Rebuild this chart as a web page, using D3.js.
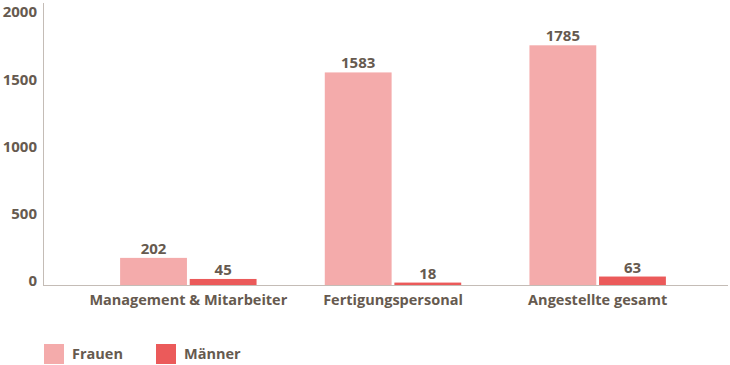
<!DOCTYPE html>
<html lang="de">
<head>
<meta charset="UTF-8"/>
<title>Frauen und Männer</title>
<script src="https://d3js.org/d3.v7.min.js"></script>
<style>
	body { margin:0; background:#fff; }
	svg text { font-family:"Open Sans", sans-serif; font-weight:700; fill:#665a4f; }
</style>
</head>
<body>
<script>
	var categories = ["Management & Mitarbeiter", "Fertigungspersonal", "Angestellte gesamt"];
	var series = ["Frauen", "Männer"];
	var frauen = [202, 1583, 1785];
	var maenner = [45, 18, 63];
	var yTicks = [0, 500, 1000, 1500, 2000];
	var colors = ["#f4abab", "#eb5a5a"];

	var w = 730, h = 365;
	var base = 285;

	var svg = d3.select("body").append("svg")
				.attr("width", w)
				.attr("height", h);

	var x0 = d3.scaleBand()
			.domain(categories)
			.range([86, 700])
			.paddingInner(1/3)
			.paddingOuter(1/6);

	var x1 = d3.scaleBand()
			.domain(series)
			.range([0, x0.bandwidth()])
			.paddingInner(0.04);

	var yScale = d3.scaleLinear()
			.domain([0, 2100])
			.range([base, 3]);

	var color = d3.scaleOrdinal().domain(series).range(colors);

	// rows for grouped bars
	var rows = categories.map(function(c, i) {
		return { cat: c, vals: [
			{ s: "Frauen", v: frauen[i] },
			{ s: "Männer", v: maenner[i] }
		]};
	});

	//------------axes-------------
	svg.append("line")
		.attr("x1", 43.5).attr("x2", 43.5)
		.attr("y1", yScale(2100)).attr("y2", base)
		.attr("stroke", "#c4bcb6");
	svg.append("line")
		.attr("x1", 43).attr("x2", 728)
		.attr("y1", base + 0.5).attr("y2", base + 0.5)
		.attr("stroke", "#c4bcb6");

	svg.selectAll("text.ytick")
		.data(yTicks)
		.enter()
		.append("text")
		.attr("class", "ytick")
		.attr("x", 37)
		.attr("y", function(d) { return yScale(d) + 1; })
		.attr("text-anchor", "end")
		.style("font-size", "15px")
		.text(function(d) { return d; });

	//------------bars-------------
	var groups = svg.selectAll("g.grp")
		.data(rows)
		.enter()
		.append("g")
		.attr("class", "grp")
		.attr("transform", function(d) { return "translate(" + x0(d.cat) + ",0)"; });

	groups.selectAll("rect")
		.data(function(d) { return d.vals; })
		.enter()
		.append("rect")
		.attr("x", function(d) { return x1(d.s); })
		.attr("y", function(d) { return yScale(d.v); })
		.attr("width", x1.bandwidth())
		.attr("height", function(d) { return base - yScale(d.v); })
		.attr("fill", function(d) { return color(d.s); });

	groups.selectAll("text.val")
		.data(function(d) { return d.vals; })
		.enter()
		.append("text")
		.attr("class", "val")
		.attr("x", function(d) { return x1(d.s) + x1.bandwidth() / 2; })
		.attr("y", function(d) { return yScale(d.v) - 4; })
		.attr("text-anchor", "middle")
		.style("font-size", "15px")
		.text(function(d) { return d.v; });

	//------------category labels-------------
	svg.selectAll("text.cat")
		.data(categories)
		.enter()
		.append("text")
		.attr("class", "cat")
		.attr("x", function(d) { return x0(d) + x0.bandwidth() / 2; })
		.attr("y", 305)
		.attr("text-anchor", "middle")
		.style("font-size", "14.5px")
		.text(function(d) { return d; });

	//------------legend-------------
	var legend = svg.selectAll("g.leg")
		.data(series)
		.enter()
		.append("g")
		.attr("class", "leg")
		.attr("transform", function(d, i) { return "translate(" + (44 + i * 112) + ",344)"; });

	legend.append("rect")
		.attr("width", 20).attr("height", 20)
		.attr("fill", function(d) { return color(d); });

	legend.append("text")
		.attr("x", 28)
		.attr("y", 15)
		.style("font-size", "14.5px")
		.text(function(d) { return d; });
</script>
</body>
</html>
